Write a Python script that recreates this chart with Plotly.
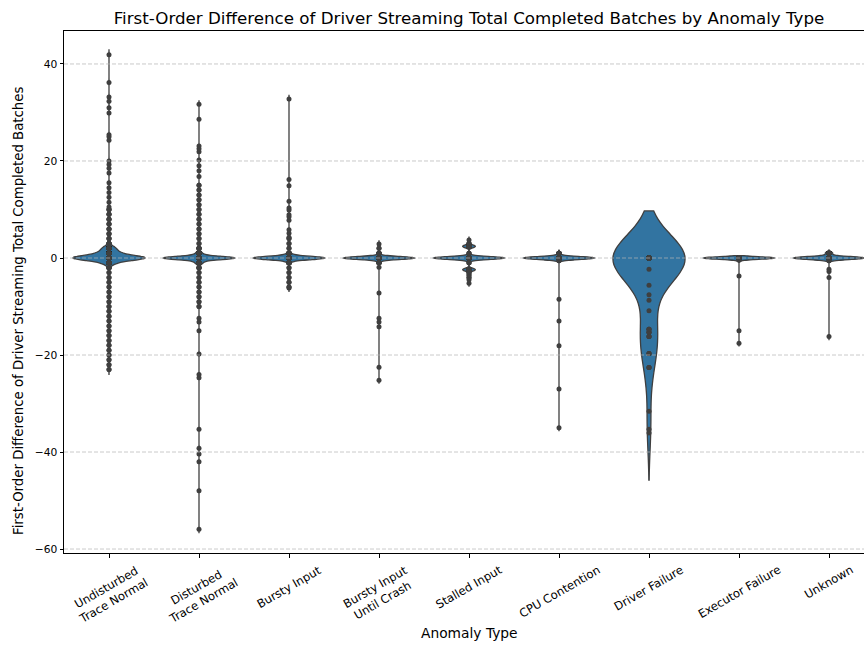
import numpy as np
import plotly.graph_objects as go

categories = ["Undisturbed Trace Normal", "Disturbed Trace Normal", "Bursty Input",
              "Bursty Input Until Crash", "Stalled Input", "CPU Contention",
              "Driver Failure", "Executor Failure", "Unknown"]
tick_labels = ["Undisturbed<br>Trace Normal", "Disturbed<br>Trace Normal", "Bursty Input",
               "Bursty Input<br>Until Crash", "Stalled Input", "CPU Contention",
               "Driver Failure", "Executor Failure", "Unknown"]

undisturbed_vals = [-23, -22, -21, -20, -19, -18, -17, -16, -15, -14, -13, -12, -11, -10, -9, -8, -7,
                    -6, -5, -4, -3, -2, -1, 0, 1, 2, 3, 4, 5, 6, 7, 8, 9, 10, 10.5, 11.5, 12.5, 13.5,
                    14.5, 15.5, 17.5, 18.5, 19.3, 20, 24.3, 25, 25.4, 29.9, 31, 32.3, 33.2, 36.2, 41.9]
undisturbed_counts = [2] * 21 + [6, 60, 400, 110, 70, 6] + [3] * 7 + [1] * 19

disturbed_vals = [-55.9, -48, -42, -40.4, -39.2, -35.3, -24.7, -24, -19.8, -15, -13.2, -12.4,
                  -10, -9, -8, -7, -6, -5, -4, -3, -2, -1, 0, 1, 2, 3, 4, 5, 6, 7, 8, 9, 10, 11,
                  12, 13, 14, 15, 16.8, 18, 19, 20.2, 21.9, 22.5, 23.1, 28.6, 31.7]
disturbed_counts = [1] * 12 + [2] * 8 + [5, 40, 400, 35, 6] + [2] * 13 + [1] * 9

bursty_vals = [-6.2, -6, -5, -4, -3, -2, -1, 0, 1, 2, 3, 4, 4.3, 5.1, 5.8, 7.8, 8.5, 8.9, 9.9,
               10.3, 11.7, 14.9, 16.2, 32.8]
bursty_counts = [1, 2, 2, 2, 2, 2, 15, 400, 20, 2, 2, 2] + [1] * 12

bursty_crash_vals = [-25.2, -22.5, -14.2, -13.2, -12.4, -7.2, -1.9, -1, 0, 1, 2, 2.9]
bursty_crash_counts = [1, 1, 1, 1, 1, 1, 1, 8, 400, 8, 2, 1]

stalled_vals = [-5.2, -4.5, -4, -3.5, -3, -2.4, -1, 0, 1, 2.4, 3, 3.7]
stalled_counts = [1, 1, 2, 2, 3, 70, 3, 400, 3, 70, 3, 1]

cpu_vals = [-35, -27, -18.1, -13, -8.5, -0.5, 0, 1]
cpu_counts = [1, 1, 1, 1, 1, 3, 400, 12]

driver_vals = [-36.1, -35.3, -31.6, -22.6, -19.7, -16.2, -15.3, -14.7, -10.9, -8.7, -7.6, -5.6, -2.3, 0]
driver_counts = [1, 1, 1, 3, 3, 3, 3, 3, 1, 1, 1, 1, 1, 55]

executor_vals = [-17.6, -15, -3.7, -0.4, 0]
executor_counts = [1, 1, 1, 3, 400]

unknown_vals = [-16.2, -4, -2.8, -2.3, -0.5, 0, 1]
unknown_counts = [1, 1, 1, 1, 3, 400, 40]

bandwidths = [0.5, 0.35, 0.35, 0.3, 0.3, 0.3, 4.85, 0.25, 0.3]

ytick_vals = [-60, -40, -20, 0, 20, 40]
ytick_text = ["\u221260", "\u221240", "\u221220", "0", "20", "40"]

series = [(undisturbed_vals, undisturbed_counts), (disturbed_vals, disturbed_counts),
          (bursty_vals, bursty_counts), (bursty_crash_vals, bursty_crash_counts),
          (stalled_vals, stalled_counts), (cpu_vals, cpu_counts), (driver_vals, driver_counts),
          (executor_vals, executor_counts), (unknown_vals, unknown_counts)]

FILL = "#3274a1"
LINE = "#3f3f3f"
FONT = "DejaVu Sans"

fig = go.Figure()
for cat, (vals, counts), bw in zip(categories, series, bandwidths):
    y = np.repeat(np.array(vals, dtype=float), counts)
    fig.add_trace(go.Violin(
        x=[cat] * len(y), y=y, name=cat, bandwidth=bw, width=0.8,
        scalemode="width", spanmode="soft", points="all", jitter=0, pointpos=0,
        fillcolor=FILL, line=dict(color=LINE, width=1.3),
        marker=dict(color=LINE, size=5, opacity=1, line=dict(width=0)),
        box_visible=False, meanline_visible=False, showlegend=False, hoverinfo="skip"))

W, H = 864, 646
L, R, T, B = 64, 0, 31, 93
pw, ph = W - L - R, H - T - B

annotations = []
for cat, lab in zip(categories, tick_labels):
    annotations.append(dict(text=lab, x=cat, xref="x", y=0, yref="paper", xanchor="center",
                            yanchor="top", yshift=-7, textangle=-30, showarrow=False,
                            font=dict(size=11.6, family=FONT, color="black")))
annotations.append(dict(text="Anomaly Type", x=(469 - L) / pw, xref="paper", y=-(633 - (T + ph)) / ph,
                        yref="paper", xanchor="center", yanchor="middle", showarrow=False,
                        font=dict(size=13.8, family=FONT, color="black")))
annotations.append(dict(text="First-Order Difference of Driver Streaming Total Completed Batches",
                        x=(18 - L) / pw, xref="paper", y=(T + ph - 311) / ph, yref="paper",
                        xanchor="center", yanchor="middle", textangle=-90, showarrow=False,
                        font=dict(size=13.3, family=FONT, color="black")))

shapes = [dict(type="line", xref="paper", x0=0, x1=1, yref="y", y0=v, y1=v, layer="above",
               line=dict(color="rgba(180,180,180,0.7)", width=1, dash="4px,2px"))
          for v in ytick_vals]

fig.update_layout(
    width=W, height=H, margin=dict(l=L, r=R, t=T, b=B),
    plot_bgcolor="white", paper_bgcolor="white", violinmode="overlay", violingap=0,
    font=dict(family=FONT, color="black"),
    title=dict(text="First-Order Difference of Driver Streaming Total Completed Batches by Anomaly Type",
               x=469 / W, xanchor="center", xref="container", y=1 - 18 / H, yanchor="middle",
               yref="container", font=dict(size=16.7, family=FONT, color="black")),
    annotations=annotations, shapes=shapes,
)
fig.update_xaxes(type="category", categoryorder="array", categoryarray=categories,
                 range=[-0.5, -0.5 + pw / 90.0], showline=True, linecolor="black", linewidth=1,
                 mirror=True, ticks="outside", ticklen=3.5, tickwidth=1, tickcolor="black",
                 showticklabels=False, showgrid=False, zeroline=False)
fig.update_yaxes(range=[-60.82, 46.8], tickvals=ytick_vals, ticktext=ytick_text,
                 showline=True, linecolor="black", linewidth=1, ticks="outside", ticklen=3.5,
                 tickwidth=1, tickcolor="black", tickfont=dict(size=10.7, family=FONT, color="black"),
                 showgrid=False, zeroline=False)

fig.write_html("out.html")
